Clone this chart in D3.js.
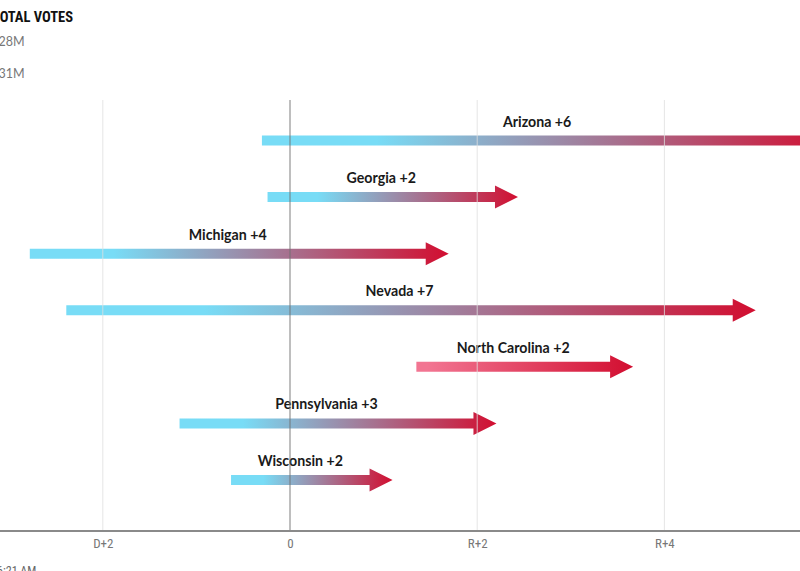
<!DOCTYPE html>
<html>
<head>
<meta charset="utf-8">
<script src="https://cdn.jsdelivr.net/npm/d3@7"></script>
<style>
  html, body { margin: 0; padding: 0; background: #fff; overflow: hidden; }
  svg { display: block; font-family: Lato, "Open Sans", sans-serif; }
</style>
</head>
<body>
<svg id="chart" width="800" height="571"></svg>
<script>
// ---- data ----
const states = ["Arizona", "Georgia", "Michigan", "Nevada", "North Carolina", "Pennsylvania", "Wisconsin"];
const margin2020 = [-0.30, -0.24, -2.78, -2.39, 1.35, -1.18, -0.63];   // negative = D, positive = R
const margin2024 = [5.58, 2.19, 1.45, 4.73, 3.42, 1.96, 0.85];
const shiftLabels = ["+6", "+2", "+4", "+7", "+2", "+3", "+2"];
const tickValues = [-2, 0, 2, 4];
const tickLabels = ["D+2", "0", "R+2", "R+4"];
const headerTitle = "TOTAL VOTES";
const headerLines = ["28M", "31M"];
const footerText = "6:21 AM";

(function () {
const svg = d3.select("#chart");
const W = 800, H = 571;

const x = d3.scaleLinear().domain([-2, 4]).range([102.8, 664.4]);
const y = d3.scalePoint().domain(states).range([140.5, 480]);
const plotTop = 100, axisY = 531;

const BLUE = "#78dcf6", PINK = "#f27592", RED = "#d20e30";
const barH = 10, headH = 23, headL = 23;
const narrow = "'Liberation Sans Narrow', 'Roboto Condensed', Roboto, sans-serif";

// header
svg.append("text").attr("x", -8).attr("y", 22)
  .attr("font-size", 14.5).attr("font-weight", 700).attr("fill", "#111")
  .attr("font-family", narrow)
  .text(headerTitle);
headerLines.forEach((t, i) => {
  svg.append("text").attr("x", -1.5).attr("y", 46 + i * 32)
    .attr("font-size", 12.5).attr("fill", "#777")
    .attr("font-family", "Lato, sans-serif")
    .text(t);
});

const data = states.map((s, i) => ({ state: s, a: margin2020[i], b: margin2024[i], label: shiftLabels[i] }));

// gradients
const defs = svg.append("defs");
data.forEach((d, i) => {
  const g = defs.append("linearGradient").attr("id", "grad" + i)
    .attr("x1", "0%").attr("x2", "100%").attr("y1", "0%").attr("y2", "0%");
  const startC = d.a < 0 ? BLUE : PINK;
  g.append("stop").attr("offset", "0%").attr("stop-color", startC);
  g.append("stop").attr("offset", d.a < 0 ? "20%" : "5%").attr("stop-color", startC);
  g.append("stop").attr("offset", "100%").attr("stop-color", RED);
});

// arrows
const arrows = svg.append("g");
data.forEach((d, i) => {
  const x0 = x(d.a), x1 = x(d.b), cy = y(d.state);
  const path = d3.path();
  path.moveTo(x0, cy - barH / 2);
  path.lineTo(x1, cy - barH / 2);
  path.lineTo(x1, cy - headH / 2);
  path.lineTo(x1 + headL, cy);
  path.lineTo(x1, cy + headH / 2);
  path.lineTo(x1, cy + barH / 2);
  path.lineTo(x0, cy + barH / 2);
  path.closePath();
  arrows.append("path").attr("d", path.toString()).attr("fill", `url(#grad${i})`);
  arrows.append("text")
    .attr("x", (x0 + x1) / 2).attr("y", cy - 14)
    .attr("text-anchor", "middle")
    .attr("font-size", 14.2).attr("font-weight", 700).attr("fill", "#1a1a1a")
    .text(`${d.state} ${d.label}`);
});

// gridlines (drawn above bars)
const grid = svg.append("g");
grid.selectAll("line").data(tickValues).join("line")
  .attr("x1", d => x(d)).attr("x2", d => x(d))
  .attr("y1", plotTop).attr("y2", axisY)
  .attr("stroke", d => d === 0 ? "#6f6f6f" : "#dedede")
  .attr("stroke-opacity", d => d === 0 ? 0.9 : 0.8)
  .attr("stroke-width", 1);

// axis
const axis = d3.axisBottom(x).tickValues(tickValues)
  .tickFormat((d, i) => tickLabels[i]).tickSize(0).tickPadding(8);
const ag = svg.append("g").attr("transform", `translate(0,${axisY})`).call(axis);
ag.select(".domain").remove();
ag.append("line").attr("x1", 0).attr("x2", W).attr("y1", 0).attr("y2", 0)
  .attr("stroke", "#8a8a8a").attr("stroke-width", 2);
ag.selectAll("text").attr("font-size", 13).attr("fill", "#777")
  .attr("font-family", narrow);

// footer
svg.append("text").attr("x", -3).attr("y", 575)
  .attr("font-size", 12).attr("fill", "#666")
  .attr("font-family", narrow)
  .text(footerText);
})();
</script>
</body>
</html>
